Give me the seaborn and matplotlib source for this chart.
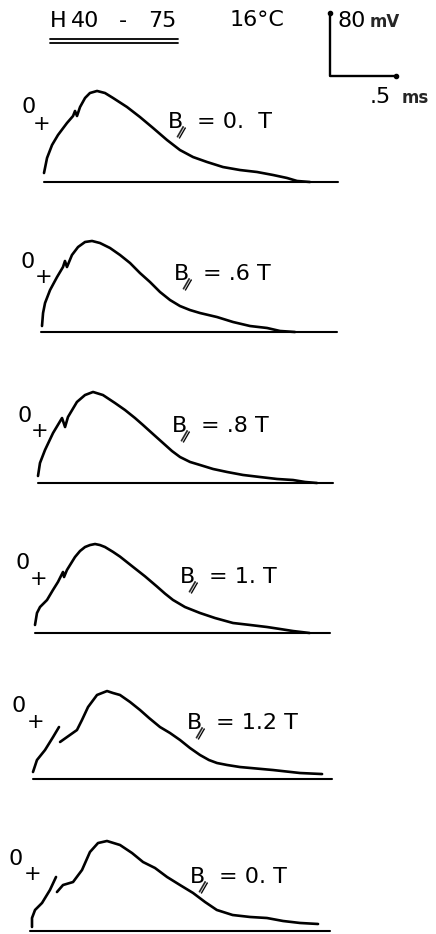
import matplotlib
matplotlib.use("Agg")
import matplotlib.pyplot as plt
import numpy as np
import pandas as pd
import seaborn as sns

# ---- recorded action potentials (time in ms, membrane potential in mV) ----
field_labels = ["= 0.  T", "= .6 T", "= .8 T", "= 1. T", "= 1.2 T", "= 0. T"]

t1 = [0, 0.023, 0.061, 0.106, 0.174, 0.220, 0.235, 0.250, 0.273, 0.311, 0.348,
      0.402, 0.462, 0.523, 0.629, 0.727, 0.826, 0.932, 1.03, 1.129, 1.235,
      1.356, 1.485, 1.614, 1.735, 1.841, 1.917, 2.015]
v1 = [11.4, 30.5, 47.0, 59.7, 74.9, 83.8, 90.2, 83.8, 95.2, 106.7, 113.0,
      115.6, 113.0, 106.7, 95.2, 82.5, 68.6, 53.3, 40.6, 31.7, 25.4,
      19.0, 15.2, 12.7, 8.9, 5.1, 1.3, 0]

t2 = [0, 0.008, 0.023, 0.061, 0.114, 0.159, 0.174, 0.189, 0.227, 0.273, 0.326,
      0.379, 0.439, 0.515, 0.591, 0.667, 0.742, 0.818, 0.894, 0.970, 1.045,
      1.121, 1.197, 1.326, 1.447, 1.576, 1.705, 1.803, 1.917]
v2 = [7.6, 24.1, 36.8, 53.3, 69.8, 82.5, 90.2, 82.5, 97.8, 107.9, 114.3,
      115.6, 113.0, 106.7, 97.8, 87.6, 74.9, 63.5, 50.8, 40.6, 33.0,
      27.9, 24.1, 19.0, 12.7, 7.6, 5.1, 1.3, 0]

t3 = [0, 0.015, 0.053, 0.114, 0.182, 0.205, 0.227, 0.295, 0.356, 0.417, 0.492,
      0.583, 0.659, 0.735, 0.795, 0.871, 0.947, 1.015, 1.076, 1.152, 1.227,
      1.326, 1.432, 1.553, 1.682, 1.811, 1.932, 2.023, 2.114]
v3 = [8.9, 25.4, 41.9, 63.5, 82.5, 71.1, 83.8, 102.9, 111.7, 115.6, 111.7,
      101.6, 92.7, 82.5, 73.7, 62.2, 50.8, 40.6, 33.0, 26.7, 22.9,
      17.8, 14.0, 10.2, 7.6, 5.1, 3.8, 1.3, 0]

t4 = [0, 0.015, 0.038, 0.091, 0.136, 0.174, 0.212, 0.220, 0.242, 0.303, 0.341,
      0.379, 0.417, 0.455, 0.492, 0.530, 0.591, 0.644, 0.742, 0.833, 0.924,
      0.985, 1.045, 1.136, 1.25, 1.364, 1.5, 1.629, 1.758, 1.856, 1.955, 2.08]
v4 = [10.2, 25.4, 33.0, 41.9, 54.6, 64.8, 77.5, 71.1, 80.0, 96.5, 104.1,
      109.2, 111.7, 113.0, 111.7, 109.2, 103.0, 97.0, 84.0, 72.0, 59.0,
      50.0, 42.0, 33.0, 25.4, 19.0, 12.7, 10.2, 7.6, 5.1, 2.5, 0]

# traces 5 and 6 are broken into a foot and the main spike
t5a = [0, 0.03, 0.091, 0.152, 0.197]
v5a = [8.9, 24.1, 36.8, 53.3, 66.0]
t5b = [0.205, 0.258, 0.333, 0.371, 0.417, 0.485, 0.561, 0.606, 0.659, 0.735,
       0.811, 0.879, 0.962, 1.038, 1.114, 1.189, 1.265, 1.333, 1.394, 1.47,
       1.568, 1.818, 2.023, 2.19]
v5b = [47.0, 53.3, 62.2, 74.9, 91.4, 106.7, 111.7, 109.2, 106.7, 97.8,
       87.6, 77.5, 66.0, 58.4, 49.5, 39.4, 30.5, 24.1, 20.3, 17.8,
       15.2, 11.4, 7.6, 6.3]

t6a = [0, 0.0, 0.023, 0.076, 0.136, 0.182]
v6a = [5.1, 16.5, 26.7, 35.6, 52.1, 68.6]
t6b = [0.189, 0.235, 0.311, 0.379, 0.439, 0.50, 0.568, 0.667, 0.758, 0.841,
       0.932, 1.023, 1.121, 1.22, 1.311, 1.40, 1.52, 1.652, 1.78, 1.902,
       2.03, 2.167]
v6b = [49.5, 58.4, 62.2, 77.5, 100.3, 111.7, 114.3, 109.2, 99.0, 87.6,
       80.0, 68.6, 58.4, 48.3, 36.8, 26.7, 20.3, 17.8, 16.5, 12.7,
       10.2, 8.9]

traces = [
    [(t1, v1)],
    [(t2, v2)],
    [(t3, v3)],
    [(t4, v4)],
    [(t5a, v5a), (t5b, v5b)],
    [(t6a, v6a), (t6b, v6b)],
]
baseline_start = [0, -0.008, 0, 0, 0, -0.015]
baseline_end = [2.227, 2.235, 2.235, 2.235, 2.265, 2.26]

scale_mv = 80
scale_ms = 0.5

# ---- layout (pixels) ----
W, H, DPI = 436, 934, 100
PX_PER_MS = 132.0
PX_PER_MV = 0.7875
origin_x = [44, 42, 38, 35, 33, 32]
base_y = [182, 332, 483, 633, 779, 931]
label_pos = [(0.94, 76), (1.0, 74), (1.015, 72), (1.098, 71), (1.167, 71), (1.197, 69)]
zero_pos = [(29, 107), (28, 262), (25, 416), (23, 563), (19, 706), (16, 859)]
plus_pos = [(42, 124), (44, 277), (40, 431), (39, 579), (36, 722), (33, 874)]

sns.set_theme(style="white")
plt.rcParams["font.family"] = ["DejaVu Sans"]

fig = plt.figure(figsize=(W / DPI, H / DPI), dpi=DPI)
fig.patch.set_facecolor("white")

def fx(x):
    return x / W

def fy(y):
    return 1 - y / H

tmin, tmax, vmin, vmax = -0.15, 2.4, -8, 125
TXT = dict(color="black", fontsize=16)
LINE = dict(color="black", estimator=None, sort=False, legend=False,
            solid_capstyle="round", solid_joinstyle="round")

axes = []
for i, segs in enumerate(traces):
    x0, b = origin_x[i], base_y[i]
    rect = [(x0 + tmin * PX_PER_MS) / W,
            1 - (b - vmin * PX_PER_MV) / H,
            (tmax - tmin) * PX_PER_MS / W,
            (vmax - vmin) * PX_PER_MV / H]
    ax = fig.add_axes(rect)
    ax.set_xlim(tmin, tmax)
    ax.set_ylim(vmin, vmax)
    ax.axis("off")
    axes.append(ax)

    frames = [pd.DataFrame({"t": t, "v": v, "seg": k}) for k, (t, v) in enumerate(segs)]
    df = pd.concat(frames, ignore_index=True)
    sns.lineplot(data=df, x="t", y="v", units="seg", lw=1.9, ax=ax, **LINE)
    sns.lineplot(x=[baseline_start[i], baseline_end[i]], y=[0, 0], lw=1.5, ax=ax, **LINE)

    lx, ly = label_pos[i]
    ax.text(lx, ly, "B", ha="left", va="center", clip_on=False, **TXT)
    ax.text(lx + 0.095, ly - 13, "\u2225", ha="center", va="center", rotation=-30,
            fontsize=9, fontweight="bold", color="black", clip_on=False)
    ax.text(lx + 0.22, ly, field_labels[i], ha="left", va="center", clip_on=False, **TXT)

    fig.text(fx(zero_pos[i][0]), fy(zero_pos[i][1]), "0", ha="center", va="center", **TXT)
    fig.text(fx(plus_pos[i][0]), fy(plus_pos[i][1]), "+", ha="center", va="center",
             fontsize=15, color="black")

# scale bar, drawn in the first panel's data units
ax0 = axes[0]
sx, sy = 2.167, 134.6
bar = pd.DataFrame({"t": [sx, sx, sx + scale_ms], "v": [sy + scale_mv, sy, sy]})
sns.lineplot(data=bar, x="t", y="v", lw=1.7, ax=ax0, clip_on=False, **LINE)
ax0.plot([sx, sx + scale_ms], [sy + scale_mv, sy], "o", ms=3, color="black",
         clip_on=False, ls="none")

# header
for txt, x in [("H", 50), ("40", 71), ("-", 119), ("75", 148)]:
    fig.text(fx(x), fy(21), txt, ha="left", va="center", **TXT)
for yy in (39, 42.5):
    fig.add_artist(plt.Line2D([fx(50), fx(178)], [fy(yy), fy(yy)], color="black", lw=1.3))
fig.text(fx(230), fy(20), "16\u00b0C", ha="left", va="center", **TXT)
fig.text(fx(337), fy(21), "80", ha="left", va="center", **TXT)
fig.text(fx(370), fy(22), "mV", ha="left", va="center", fontsize=12, fontweight="bold")
fig.text(fx(370), fy(97), ".5", ha="left", va="center", **TXT)
fig.text(fx(402), fy(98), "ms", ha="left", va="center", fontsize=12, fontweight="bold")

fig.savefig("out.png", dpi=DPI, facecolor="white")
